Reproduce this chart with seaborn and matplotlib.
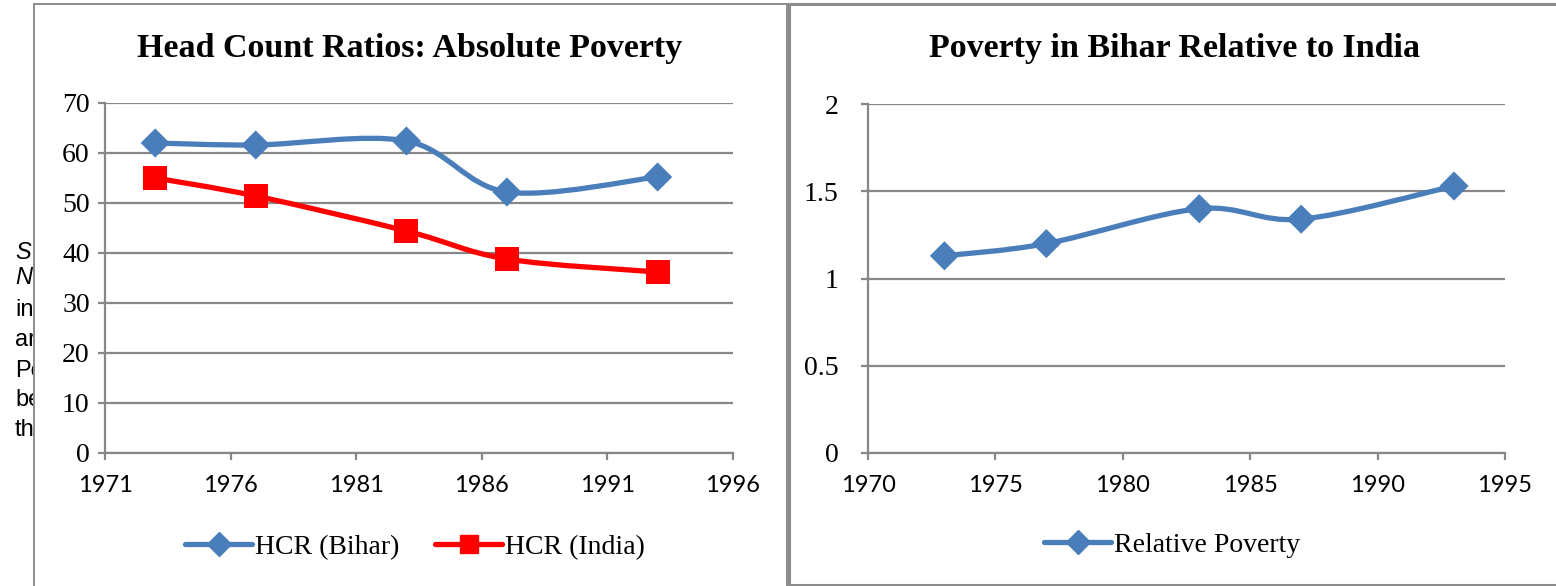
import numpy as np
import pandas as pd
import seaborn as sns
import matplotlib.pyplot as plt
from matplotlib.path import Path
from matplotlib.patches import PathPatch, Rectangle
from matplotlib.lines import Line2D


# data
years = [1973, 1977, 1983, 1987, 1993]
hcr_bihar = [62.0, 61.6, 62.4, 52.2, 55.2]
hcr_india = [55.0, 51.4, 44.4, 38.8, 36.2]
relative_poverty = [1.13, 1.20, 1.40, 1.34, 1.53]

left_xticks = [1971, 1976, 1981, 1986, 1991, 1996]
left_yticks = [0, 10, 20, 30, 40, 50, 60, 70]
right_xticks = [1970, 1975, 1980, 1985, 1990, 1995]
right_yticks = [0, 0.5, 1, 1.5, 2]
right_ylabels = ["0", "0.5", "1", "1.5", "2"]

# clipped words of the page text behind the left chart
side_text = ["S", "N", "in", "ar", "Po", "be", "th"]

BLUE = "#4a7ebb"
RED = "#ff0000"
GRID = "#878787"
SERIF = "Liberation Serif"
SANS = "Lato"

W, H = 1556, 586

sns.set_theme(style="white")
plt.rcParams["font.family"] = ["Liberation Serif", "DejaVu Serif"]
plt.rcParams["text.color"] = "black"
plt.rcParams["xtick.color"] = "black"
plt.rcParams["ytick.color"] = "black"


def smooth_path(x, y):
    """Excel style smoothed line as a bezier path"""
    pts = np.column_stack([x, y]).astype(float)
    n = len(pts)
    verts = [pts[0]]
    codes = [Path.MOVETO]
    for i in range(n - 1):
        p0 = pts[max(i - 1, 0)]
        p1 = pts[i]
        p2 = pts[i + 1]
        p3 = pts[min(i + 2, n - 1)]
        verts += [p1 + (p2 - p0) / 6, p2 - (p3 - p1) / 6, p2]
        codes += [Path.CURVE4] * 3
    return Path(verts, codes)


def draw_series(ax, x, y, color, marker, size):
    ax.add_patch(PathPatch(smooth_path(x, y), fill=False, edgecolor=color,
                           lw=3.8, capstyle="round", joinstyle="round", zorder=3))
    df = pd.DataFrame({"x": x, "y": y})
    sns.scatterplot(data=df, x="x", y="y", marker=marker, s=size, color=color,
                    edgecolor="none", ax=ax, zorder=4, legend=False)


def style_axes(ax, xticks, yticks, ylabels, ypad):
    ax.set_facecolor("none")
    ax.set_xlim(xticks[0], xticks[-1])
    ax.set_ylim(yticks[0], yticks[-1])
    ax.set_xticks(xticks)
    ax.set_yticks(yticks)
    ax.set_yticklabels(ylabels)
    ax.set_xlabel("")
    ax.set_ylabel("")
    ax.grid(axis="y", color=GRID, lw=1.6)
    ax.grid(axis="x", visible=False)
    for s in ["top", "right"]:
        ax.spines[s].set_visible(False)
    for s in ["left", "bottom"]:
        ax.spines[s].set_color(GRID)
        ax.spines[s].set_linewidth(1.6)
    ax.tick_params(axis="both", direction="out", length=5, width=1.6, color=GRID,
                   labelcolor="black", left=True, bottom=True)
    ax.tick_params(axis="y", pad=ypad, labelsize=20)
    ax.tick_params(axis="x", pad=11, labelsize=17)
    for lab in ax.get_xticklabels():
        lab.set_fontfamily(SANS)
    for lab in ax.get_yticklabels():
        lab.set_fontfamily(SERIF)
    ax.set_axisbelow(True)


fig = plt.figure(figsize=(W / 100, H / 100), dpi=100)
fig.patch.set_facecolor("white")

# page text peeking out from behind the chart
side_y = [259, 284, 316, 346, 377, 406, 436]
for t, yy in zip(side_text, side_y):
    style = "italic" if t in ("S", "N") else "normal"
    fig.text(15 / W, 1 - yy / H, t, fontsize=17, family="Liberation Sans",
             style=style, va="baseline", ha="left", zorder=0.5)

# chart frames
fig.patches.append(Rectangle((34 / W, -0.05), (787 - 34) / W, 1 - 4 / H + 0.05,
                             transform=fig.transFigure, facecolor="white",
                             edgecolor="#8c8c8c", lw=1.4, zorder=1))
fig.patches.append(Rectangle((789 / W, 1 - 585 / H), 0.6, (585 - 4) / H,
                             transform=fig.transFigure, facecolor="white",
                             edgecolor="#8c8c8c", lw=2.2, zorder=1))

ax1 = fig.add_axes([105 / W, 1 - 453 / H, 628 / W, 350 / H], zorder=2)
ax2 = fig.add_axes([868 / W, 1 - 453 / H, 637 / W, 349 / H], zorder=2)

draw_series(ax1, years, hcr_bihar, BLUE, "D", 220)
draw_series(ax1, years, hcr_india, RED, "s", 300)
style_axes(ax1, left_xticks, left_yticks, [str(v) for v in left_yticks], 6)

draw_series(ax2, years, relative_poverty, BLUE, "D", 220)
style_axes(ax2, right_xticks, right_yticks, right_ylabels, 16)

fig.text(410 / W, 1 - 49 / H, "Head Count Ratios: Absolute Poverty",
         fontsize=24.5, fontweight="bold", family=SERIF, ha="center", va="center",
         color="black", zorder=3)
fig.text(1175 / W, 1 - 49 / H, "Poverty in Bihar Relative to India",
         fontsize=24.5, fontweight="bold", family=SERIF, ha="center", va="center",
         color="black", zorder=3)

h_bihar = Line2D([], [], color=BLUE, lw=3.8, marker="D", markersize=12,
                 solid_capstyle="round", label="HCR (Bihar)")
h_india = Line2D([], [], color=RED, lw=3.8, marker="s", markersize=13,
                 solid_capstyle="round", label="HCR (India)")
h_rel = Line2D([], [], color=BLUE, lw=3.8, marker="D", markersize=12,
               solid_capstyle="round", label="Relative Poverty")

leg_kw = dict(frameon=False, handlelength=2.4, handletextpad=0.1,
              loc="center", prop={"family": SERIF, "size": 20})
fig.legend(handles=[h_bihar, h_india], ncol=2, columnspacing=1.3,
           bbox_to_anchor=(415 / W, 1 - 547 / H), **leg_kw)
fig.legend(handles=[h_rel], ncol=1,
           bbox_to_anchor=(1172 / W, 1 - 545 / H), **leg_kw)

fig.savefig("out.png", dpi=100, facecolor="white")
